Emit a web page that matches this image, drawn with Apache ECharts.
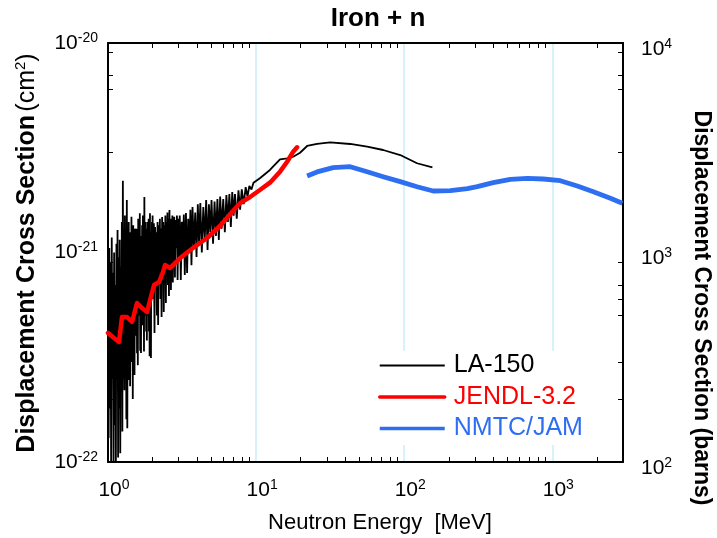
<!DOCTYPE html>
<html><head><meta charset="utf-8">
<script src="https://cdn.jsdelivr.net/npm/echarts@6/dist/echarts.min.js"></script>
<style>html,body{margin:0;padding:0;background:#fff}#c{width:717px;height:538px}</style>
</head><body><div id="c"></div>
<script>
const FONT = '"Liberation Sans", Arial, Helvetica, sans-serif';

// Neutron energy [MeV] and displacement cross section [barns]
const laEnergy = [1.00,1.01,1.02,1.03,1.04,1.05,1.06,1.07,1.08,1.09,1.10,1.11,1.12,1.13,1.14,1.15,1.16,1.17,1.18,1.19,1.20,1.21,1.22,1.23,1.24,1.25,1.26,1.27,1.28,1.29,1.30,1.31,1.32,1.33,1.34,1.35,1.36,1.37,1.38,1.39,
  1.40,1.41,1.42,1.43,1.44,1.45,1.46,1.47,1.48,1.49,1.50,1.51,1.52,1.53,1.54,1.55,1.56,1.57,1.58,1.59,1.60,1.61,1.62,1.63,1.64,1.65,1.66,1.67,1.68,1.69,1.70,1.71,1.72,1.73,1.74,1.75,1.76,1.77,1.78,1.79,1.80,1.81,1.82,1.83,1.84,1.85,1.86,1.87,1.88,1.89,1.90,1.91,1.92,1.93,1.94,1.95,1.96,1.97,1.98,1.99,
  2.00,2.02,2.04,2.06,2.08,2.10,2.12,2.14,2.16,2.18,2.20,2.22,2.24,2.26,2.28,2.30,2.32,2.34,2.36,2.38,2.40,2.42,2.44,2.46,2.48,2.50,2.52,2.54,2.56,2.58,2.60,2.62,2.64,2.66,2.68,2.70,2.72,2.74,2.76,2.78,2.80,2.83,2.86,2.89,2.92,2.95,2.98,
  3.01,3.05,3.10,3.15,3.20,3.25,3.30,3.36,3.42,3.48,3.54,3.60,3.66,3.72,3.80,3.88,3.96,4.04,4.12,4.20,4.30,4.40,4.50,4.60,4.70,4.80,4.90,5.00,5.12,5.24,5.36,5.48,5.60,5.72,5.85,6.00,6.15,6.30,6.45,6.60,6.75,6.90,7.05,7.20,7.40,7.60,7.80,8.00,8.25,8.50,8.75,9.00,9.30,9.60,
  10.6,12.4,14.5,16.2,17.8,19.8,22.1,25.8,31.6,43.2,56.2,72.1,94,122,155];
const laXS = [600,130,1050,180,900,95,1180,250,800,92,1000,150,700,98,1100,260,1280,105,950,180,1150,110,850,300,1400,140,2200,250,1300,220,1500,400,1200,160,1780,145,1250,300,1400,246,
  1100,230,1250,350,1480,300,1000,200,1350,450,1200,260,1300,550,1150,400,1300,330,1250,290,1450,600,1300,500,1540,340,1100,331,1200,700,1350,450,1500,550,1200,337,1840,500,1300,600,1400,420,1250,380,1300,650,1400,500,1450,420,1300,320,1540,480,1200,314,1250,700,1400,600,
  1500,600,1380,413,1324,700,1250,500,1400,451,1350,800,1450,600,1300,492,1476,750,1400,520,1350,850,1500,574,1400,900,1550,700,1450,620,1596,950,1400,662,1450,1000,1500,720,1400,1000,1480,760,1429,1050,1500,739,1450,
  950,1500,739,1400,950,1520,780,1544,798,1450,1000,1600,870,1649,1050,1550,952,1700,1100,1722,1000,1650,1150,1781,1028,1700,1250,1780,1100,1750,1200,1800,1148,1850,1300,1800,1250,1880,1400,1900,1324,1945,1500,1900,1450,1980,1600,2000,1700,2050,1850,2080,2000,2150,
  2260,2477,2786,2817,2866,2994,3224,3296,3358,3296,3200,3085,2919,2667,2551];

const jeEnergy = [1.00,1.098,1.187,1.243,1.344,1.453,1.570,1.697,1.834,2.046,2.212,2.353,2.43,2.62,3.07,3.75,4.67,5.71,6.88,7.8,9.1,10.6,12.4,14.5,16.2,17.8,18.9];
const jeXS = [413,391,374,492,492,466,574,543,520,700,723,807,872,843,941,1051,1173,1338,1560,1722,1841,1987,2154,2431,2712,3028,3178];

const nmEnergy = [22.1,25.8,33.1,43.2,56.2,72.1,94,122,157,205,267,311,399,520,678,869,1132,1475,1892,2466,2970];
const nmXS = [2318,2424,2541,2568,2431,2300,2178,2061,1966,1972,2016,2061,2154,2236,2260,2243,2202,2077,1950,1814,1717];

const xLabelValues = [1, 10, 100, 1000];
const xMinorTicks = [2,3,4,5,6,7,8,9,20,30,40,50,60,70,80,90,200,300,400,500,600,700,800,900,2000];
const yLeftLabelValues = [1e-22, 1e-21, 1e-20];
const yLeftMinorTicks = [2e-22,3e-22,5e-22,6e-22,7e-22,9e-22,3e-21,6e-21,7e-21,9e-21];
const yRightLabelValues = [100, 1000, 10000];
const yRightMinorTicks = [200,300,500,600,700,900,3000,6000,7000,9000];

const zip = (a, b) => a.map((v, i) => [v, b[i]]);
const expLabel = v => '{b|10}{s|' + Math.round(Math.log10(v)) + '}';
const richLab = {
  b: {fontSize: 21, fontFamily: FONT, color: '#000', lineHeight: 24},
  s: {fontSize: 14, fontFamily: FONT, color: '#000', lineHeight: 15, verticalAlign: 'top'}
};
const frameLine = {show: true, lineStyle: {color: '#000', width: 2}};
const minorTick = vals => ({show: true, inside: true, length: 5, customValues: vals, lineStyle: {color: '#000', width: 1}});

const chart = echarts.init(document.getElementById('c'));
chart.setOption({
  animation: false,
  backgroundColor: '#fff',
  grid: {left: 108, right: 94, top: 43, bottom: 76, containLabel: false},
  xAxis: [
    {type: 'log', logBase: 10, min: 1, max: 3000, position: 'bottom', axisLine: frameLine,
     axisTick: minorTick(xMinorTicks), splitLine: {show: false},
     axisLabel: {customValues: xLabelValues, margin: 16, formatter: expLabel, rich: richLab, padding: [0, 0, 0, 12]}},
    {type: 'log', logBase: 10, min: 1, max: 3000, position: 'top', axisLine: frameLine,
     axisTick: minorTick(xMinorTicks), axisLabel: {show: false}, splitLine: {show: false}},
    {type: 'log', logBase: 10, min: 1, max: 3000, position: 'bottom', axisLine: {show: false},
     axisTick: {show: false}, axisLabel: {show: false},
     splitLine: {show: true, lineStyle: {color: '#c9eef8', width: 1.5}}}
  ],
  yAxis: [
    {type: 'log', logBase: 10, min: 1e-22, max: 1e-20, position: 'left', axisLine: frameLine,
     axisTick: minorTick(yLeftMinorTicks), splitLine: {show: false},
     axisLabel: {customValues: yLeftLabelValues, margin: 10, formatter: expLabel, rich: richLab}},
    {type: 'log', logBase: 10, min: 100, max: 10000, position: 'right', axisLine: frameLine,
     axisTick: minorTick(yRightMinorTicks), splitLine: {show: false},
     axisLabel: {customValues: yRightLabelValues, margin: 18, formatter: expLabel, rich: richLab, padding: [12, 0, 0, 0]}}
  ],
  legend: {
    orient: 'vertical', left: 373, top: 351, itemWidth: 65, itemHeight: 14, itemGap: 6.5,
    padding: [2, 12, 4, 5], backgroundColor: '#fff',
    itemStyle: {opacity: 0},
    textStyle: {fontSize: 25, fontFamily: FONT, lineHeight: 25, padding: [0, 0, 0, 4]},
    data: [
      {name: 'LA-150', textStyle: {color: '#000'}, lineStyle: {width: 2}},
      {name: 'JENDL-3.2', textStyle: {color: '#ff0000'}, lineStyle: {width: 3.5}},
      {name: 'NMTC/JAM', textStyle: {color: '#2e6ff2'}, lineStyle: {width: 3.5}}
    ]
  },
  series: [
    {name: 'LA-150', type: 'line', xAxisIndex: 0, yAxisIndex: 1, data: zip(laEnergy, laXS),
     showSymbol: false, symbol: 'none', color: '#000', lineStyle: {color: '#000', width: 1.8}, z: 3},
    {name: 'JENDL-3.2', type: 'line', xAxisIndex: 0, yAxisIndex: 1, data: zip(jeEnergy, jeXS),
     showSymbol: false, symbol: 'none', color: '#ff0000', lineStyle: {color: '#ff0000', width: 4.5, join: 'round', cap: 'round'}, z: 4},
    {name: 'NMTC/JAM', type: 'line', xAxisIndex: 0, yAxisIndex: 1, data: zip(nmEnergy, nmXS),
     showSymbol: false, symbol: 'none', color: '#2e6ff2', lineStyle: {color: '#2e6ff2', width: 4.8, join: 'round'}, z: 4}
  ],
  graphic: [
    {type: 'text', x: 378, y: 19, style: {text: 'Iron + n', font: 'bold 26px ' + FONT, fill: '#000', align: 'center', verticalAlign: 'middle'}},
    {type: 'text', x: 380, y: 523, style: {text: 'Neutron Energy  [MeV]', font: '22px ' + FONT, fill: '#000', align: 'center', verticalAlign: 'middle'}},
    {type: 'text', x: 27, y: 253, rotation: Math.PI / 2,
     style: {text: '{b|Displacement Cross Section} {n|(cm}{s|2}{n|)}', align: 'center', verticalAlign: 'middle',
       rich: {b: {font: 'bold 25px ' + FONT, fill: '#000', lineHeight: 28},
              n: {font: '25px ' + FONT, fill: '#000', lineHeight: 28},
              s: {font: '15px ' + FONT, fill: '#000', lineHeight: 16, verticalAlign: 'top'}}}},
    {type: 'text', x: 701, y: 308, rotation: -Math.PI / 2,
     style: {text: 'Displacement Cross Section (barns)', font: 'bold 23px ' + FONT, fill: '#000', align: 'center', verticalAlign: 'middle'}}
  ]
});
</script></body></html>
